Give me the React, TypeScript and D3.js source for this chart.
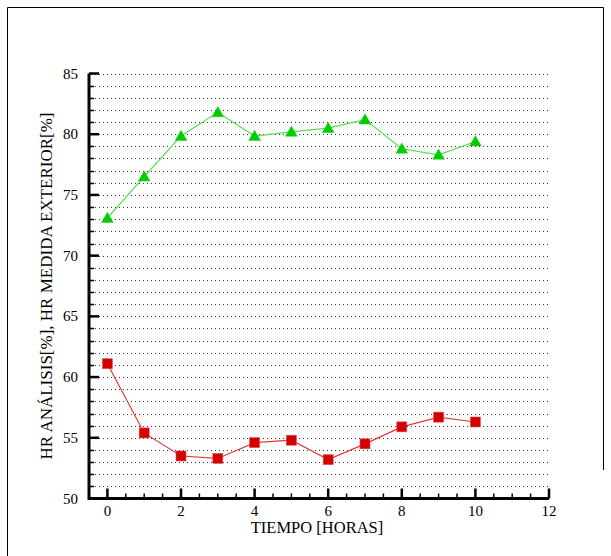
import React from "react";
import * as d3 from "d3";

const hours = [0, 1, 2, 3, 4, 5, 6, 7, 8, 9, 10];
const hrExterior = [73.1, 76.5, 79.85, 81.8, 79.85, 80.2, 80.5, 81.2, 78.8, 78.3, 79.4];
const hrAnalisis = [61.1, 55.4, 53.5, 53.3, 54.6, 54.8, 53.2, 54.5, 55.9, 56.7, 56.3];
const xMajorTicks = [0, 2, 4, 6, 8, 10, 12];
const yMajorTicks = [50, 55, 60, 65, 70, 75, 80, 85];

const W = 611;
const H = 556;
const L = 89, R = 549, T = 73.5, B = 498.5;
const FONT = "'Liberation Serif', 'Times New Roman', Times, serif";

export default function App() {
  const x = d3.scaleLinear().domain([-0.5, 12]).range([L, R]);
  const y = d3.scaleLinear().domain([50, 85]).range([B, T]);
  const yMinor = d3.range(51, 86, 1);
  const xMinor = d3.range(-0.5, 12.01, 0.5).filter((v) => !xMajorTicks.includes(v));
  const line = d3.line<number>().x((_, i) => x(hours[i])).y((d) => y(d));
  const tri = d3.symbol().type(d3.symbolTriangle).size(60)();
  const ts = { fontFamily: FONT, fontSize: "15px" };

  return (
    <svg width={W} height={H} style={{ position: "absolute", left: 0, top: 0, display: "block" }}>
      <rect x={0} y={0} width={W} height={H} fill="#fff" />
      <path d={`M7.5,${H} V7.5 H603.5 V470`} fill="none" stroke="#000" strokeWidth={1} />
      {yMinor.map((v) => (
        <line key={"g" + v} x1={L + 2} x2={R} y1={Math.round(y(v)) + 0.5} y2={Math.round(y(v)) + 0.5}
          stroke="#333" strokeWidth={1} strokeDasharray="1,3" />
      ))}
      {yMinor.filter((v) => v % 5 !== 0).map((v) => (
        <line key={"ym" + v} x1={L} x2={L + 5} y1={Math.round(y(v)) + 0.5} y2={Math.round(y(v)) + 0.5} stroke="#000" strokeWidth={1.5} />
      ))}
      {yMajorTicks.map((v) => (
        <line key={"yM" + v} x1={L} x2={L + 10} y1={y(v)} y2={y(v)} stroke="#000" strokeWidth={2.5} />
      ))}
      {xMinor.map((v) => (
        <line key={"xm" + v} x1={x(v)} x2={x(v)} y1={B} y2={B - 5} stroke="#000" strokeWidth={1.5} />
      ))}
      {xMajorTicks.map((v) => (
        <line key={"xM" + v} x1={x(v)} x2={x(v)} y1={B} y2={B - 10} stroke="#000" strokeWidth={2.5} />
      ))}
      <path d={`M${L},${T} V${B} H${R}`} fill="none" stroke="#000" strokeWidth={3} />
      {yMajorTicks.map((v) => (
        <text key={"yl" + v} x={L - 11} y={y(v) + 5} textAnchor="end" style={ts} fill="#000">{v}</text>
      ))}
      {xMajorTicks.map((v) => (
        <text key={"xl" + v} x={x(v)} y={B + 17} textAnchor="middle" style={ts} fill="#000">{v}</text>
      ))}
      <text x={317} y={B + 34} textAnchor="middle" style={{ fontFamily: FONT, fontSize: "16.5px" }} fill="#000">TIEMPO [HORAS]</text>
      <text transform={`translate(52,286) rotate(-90)`} textAnchor="middle" style={{ fontFamily: FONT, fontSize: "17px" }} fill="#000">
        HR ANÁLISIS[%], HR MEDIDA EXTERIOR[%]
      </text>
      <path d={line(hrExterior) || ""} fill="none" stroke="#55dd55" strokeWidth={1.2} />
      <path d={line(hrAnalisis) || ""} fill="none" stroke="#e03a3a" strokeWidth={1.2} />
      {hrExterior.map((v, i) => (
        <path key={"t" + i} d={tri || ""} transform={`translate(${x(hours[i])},${y(v) + 1})`} fill="#00cc00" stroke="#22cc22" strokeWidth={0.5} />
      ))}
      {hrAnalisis.map((v, i) => (
        <rect key={"s" + i} x={x(hours[i]) - 5} y={y(v) - 5} width={10} height={10} fill="#d40000" stroke="#e05050" strokeWidth={0.6} />
      ))}
    </svg>
  );
}
